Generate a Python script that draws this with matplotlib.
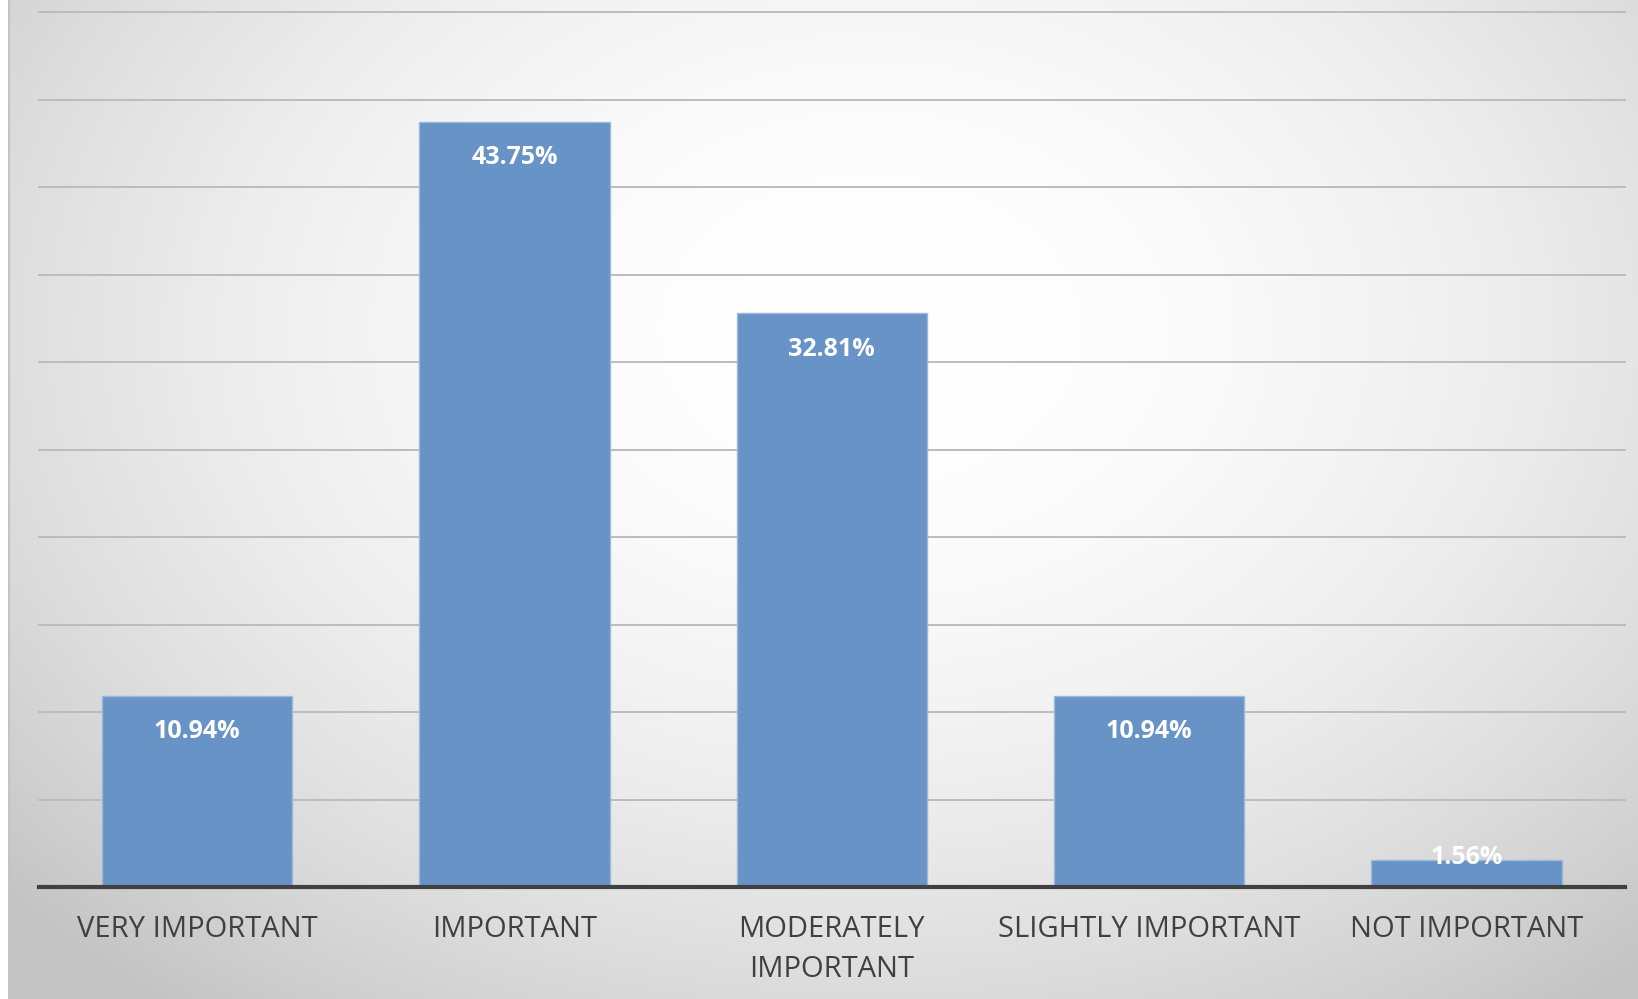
import numpy as np
import matplotlib
matplotlib.use("Agg")
import matplotlib.pyplot as plt

categories = ["VERY IMPORTANT", "IMPORTANT", "MODERATELY\nIMPORTANT",
              "SLIGHTLY IMPORTANT", "NOT IMPORTANT"]
values = [10.94, 43.75, 32.81, 10.94, 1.56]
value_labels = ["10.94%", "43.75%", "32.81%", "10.94%", "1.56%"]
y_max = 50
y_step = 5

W, H = 1638, 999
DPI = 100
fig = plt.figure(figsize=(W / DPI, H / DPI), dpi=DPI, facecolor="white")

# radial gradient background
bg = fig.add_axes([8 / W, 0, 1 - 8 / W, 1])
bw, bh = W - 8, H
xx, yy = np.meshgrid(np.arange(bw) + 8, np.arange(bh))
cx, cy, rx, ry = 870, 330, 1150.0, 850.0
t = np.clip(np.hypot((xx - cx) / rx, (yy - cy) / ry), 0, 1)
g = 1 - 0.23 * t ** 2
img = np.dstack([g, g, g])
bg.imshow(img, aspect="auto", extent=(0, bw, bh, 0), interpolation="bilinear")
bg.set_axis_off()
bg.axvline(0.5, color="#c4c4c4", lw=1.5)

ax = fig.add_axes([38.6 / W, 1 - 887 / H, (1625 - 38.6) / W, (887 - 12.5) / H])
ax.set_facecolor("none")
x = np.arange(len(categories))
bars = ax.bar(x, values, width=0.6, color="#6793C6", edgecolor="#9DB8DC",
              linewidth=1, zorder=3)
ax.set_xlim(-0.5, len(categories) - 0.5)
ax.set_ylim(0, y_max)
for yv in np.arange(y_step, y_max + 0.01, y_step):
    ax.axhline(yv, color="#bcbcbc", lw=1.4, zorder=0, clip_on=False)
for s in ["top", "right", "left"]:
    ax.spines[s].set_visible(False)
ax.spines["bottom"].set_color("#404040")
ax.spines["bottom"].set_linewidth(3)
ax.spines["bottom"].set_zorder(5)
ax.tick_params(axis="y", left=False, labelleft=False)
ax.set_xticks(x)
ax.set_xticklabels(categories, fontsize=21, color="#404040", family="Open Sans",
                   linespacing=1.5)
ax.tick_params(axis="x", length=0, pad=20)
for lbl in ax.get_xticklabels():
    lbl.set_verticalalignment("top")

px_per_unit = (887 - 12.5) / y_max
for xi, v, lab in zip(x, values, value_labels):
    h_px = v * px_per_unit
    off = -36 if h_px > 70 else 2
    ax.annotate(lab, (xi, v), xytext=(0, off * 72 / DPI), textcoords="offset points",
                ha="center", va="center", color="white", fontsize=18,
                fontweight="bold", family="Open Sans", zorder=6)

fig.savefig("out.png", dpi=DPI, facecolor=fig.get_facecolor())
